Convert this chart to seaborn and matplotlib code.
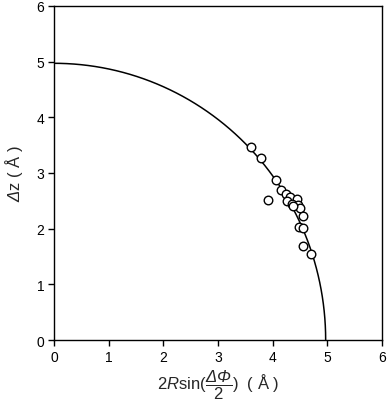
import numpy as np
import pandas as pd
import matplotlib
matplotlib.use('Agg')
import matplotlib.pyplot as plt
import seaborn as sns

chord = [3.60, 3.78, 4.06, 3.92, 4.15, 4.24, 4.32, 4.44, 4.26, 4.35,
         4.47, 4.50, 4.38, 4.56, 4.49, 4.56, 4.56, 4.71]
dz = [3.47, 3.27, 2.88, 2.52, 2.70, 2.63, 2.56, 2.53, 2.50, 2.45,
      2.42, 2.38, 2.40, 2.22, 2.03, 2.02, 1.68, 1.55]

# fitted circle radius (Å)
RADIUS = 4.97
TICKS = [0, 1, 2, 3, 4, 5, 6]

sns.set_style('ticks')
plt.rcParams['font.family'] = ['Liberation Sans', 'DejaVu Sans']
plt.rcParams['mathtext.fontset'] = 'custom'
plt.rcParams['mathtext.rm'] = 'Liberation Sans'
plt.rcParams['mathtext.it'] = 'Liberation Sans:italic'
# mathtext keeps capital greek upright under \mathit, so borrow the bf slot for italic greek
plt.rcParams['mathtext.bf'] = 'Liberation Sans:italic'

fig = plt.figure(figsize=(3.87, 4.02), dpi=100)
ax = fig.add_axes([0.1395, 0.1517, 0.8475, 0.831])

theta = np.linspace(0, np.pi / 2, 300)
arc = pd.DataFrame({'x': RADIUS * np.cos(theta), 'y': RADIUS * np.sin(theta)})
sns.lineplot(data=arc, x='x', y='y', sort=False, color='black', linewidth=1.1, ax=ax)

pts = pd.DataFrame({'chord': chord, 'dz': dz})
sns.scatterplot(data=pts, x='chord', y='dz', s=38, color='white', edgecolor='black',
                linewidth=1.0, zorder=3, ax=ax)

ax.set_xlim(0, 6)
ax.set_ylim(0, 6)
ax.set_xticks(TICKS)
ax.set_yticks(TICKS)
ax.tick_params(direction='out', length=4, width=1, labelsize=10, colors='black', pad=3)
for s in ax.spines.values():
    s.set_linewidth(1)
    s.set_color('black')

ax.set_xlabel(r'$2\mathit{R}\mathrm{sin}(\dfrac{\mathbf{\Delta\Phi}}{2})$  ( Å )', fontsize=12, labelpad=3)
ax.set_ylabel(r'$\mathbf{\Delta}\mathrm{z}$ ( Å )', fontsize=12, labelpad=8)

fig.savefig('out.png', dpi=100)
